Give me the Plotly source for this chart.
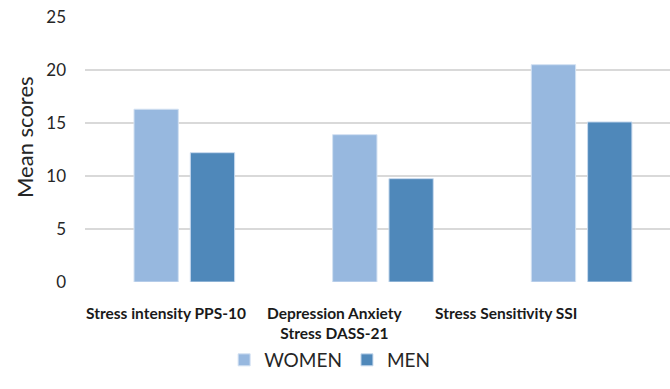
import plotly.graph_objects as go

# Mean scores by scale and sex
categories = ["Stress intensity PPS-10", "Depression Anxiety Stress DASS-21", "Stress Sensitivity SSI"]
category_labels = ["Stress intensity PPS-10", "Depression Anxiety<br>Stress DASS-21", "Stress Sensitivity SSI"]
women = [16.3, 13.9, 20.5]
men = [12.2, 9.75, 15.1]
y_ticks = [0, 5, 10, 15, 20, 25]

FONT = "Lato"
W, H = 670, 389
L, R, T, B = 85, 0, 17, 107
plot_w = W - L - R
plot_h = H - T - B
base_px = H - B  # pixel row of the zero line


def px_to_paper_x(px):
    return (px - L) / plot_w


def px_to_paper_y(py):
    return (base_px - py) / plot_h


fig = go.Figure()
fig.add_trace(go.Bar(
    name="WOMEN", x=categories, y=women,
    marker=dict(color="#97B8DF", line=dict(color="#D3E1F2", width=1)),
))
fig.add_trace(go.Bar(
    name="MEN", x=categories, y=men,
    marker=dict(color="#4F88BA", line=dict(color="#C9DAEE", width=1)),
))

# category labels under each group
label_px = [166, 334.5, 506]
for px, txt in zip(label_px, category_labels):
    fig.add_annotation(
        x=px_to_paper_x(px), xref="paper",
        y=px_to_paper_y(302), yref="paper",
        text=f"<b>{txt}</b>", showarrow=False,
        xanchor="center", yanchor="top",
        font=dict(family=FONT, size=15.5, color="#1a1a1a"),
    )

# y-axis title
fig.add_annotation(
    x=px_to_paper_x(24), xref="paper",
    y=px_to_paper_y(137), yref="paper",
    text="Mean scores", textangle=-90, showarrow=False,
    xanchor="center", yanchor="middle",
    font=dict(family=FONT, size=22, color="#262626"),
)

fig.update_layout(
    width=W, height=H,
    margin=dict(l=L, r=R, t=T, b=B, autoexpand=False),
    paper_bgcolor="white", plot_bgcolor="white",
    barmode="group", bargap=0.433, bargroupgap=0.213,
    font=dict(family=FONT, color="#404040"),
    showlegend=True,
    legend=dict(
        orientation="h", xref="container", yref="container",
        x=0.492, y=1 - 360 / H, xanchor="center", yanchor="middle",
        font=dict(family=FONT, size=19, color="#262626"),
        itemwidth=30, traceorder="normal",
    ),
    xaxis=dict(
        type="category", range=[-0.5, 2.445], showticklabels=False,
        showgrid=False, showline=False, zeroline=False, ticks="",
    ),
    yaxis=dict(
        range=[0, 25], tickvals=y_ticks, showgrid=True,
        gridcolor="#D9D9D9", gridwidth=2, zeroline=False, showline=False,
        ticks="", ticklabelstandoff=18,
        tickfont=dict(family=FONT, size=17, color="#262626"),
    ),
)

fig.write_html("out.html")
